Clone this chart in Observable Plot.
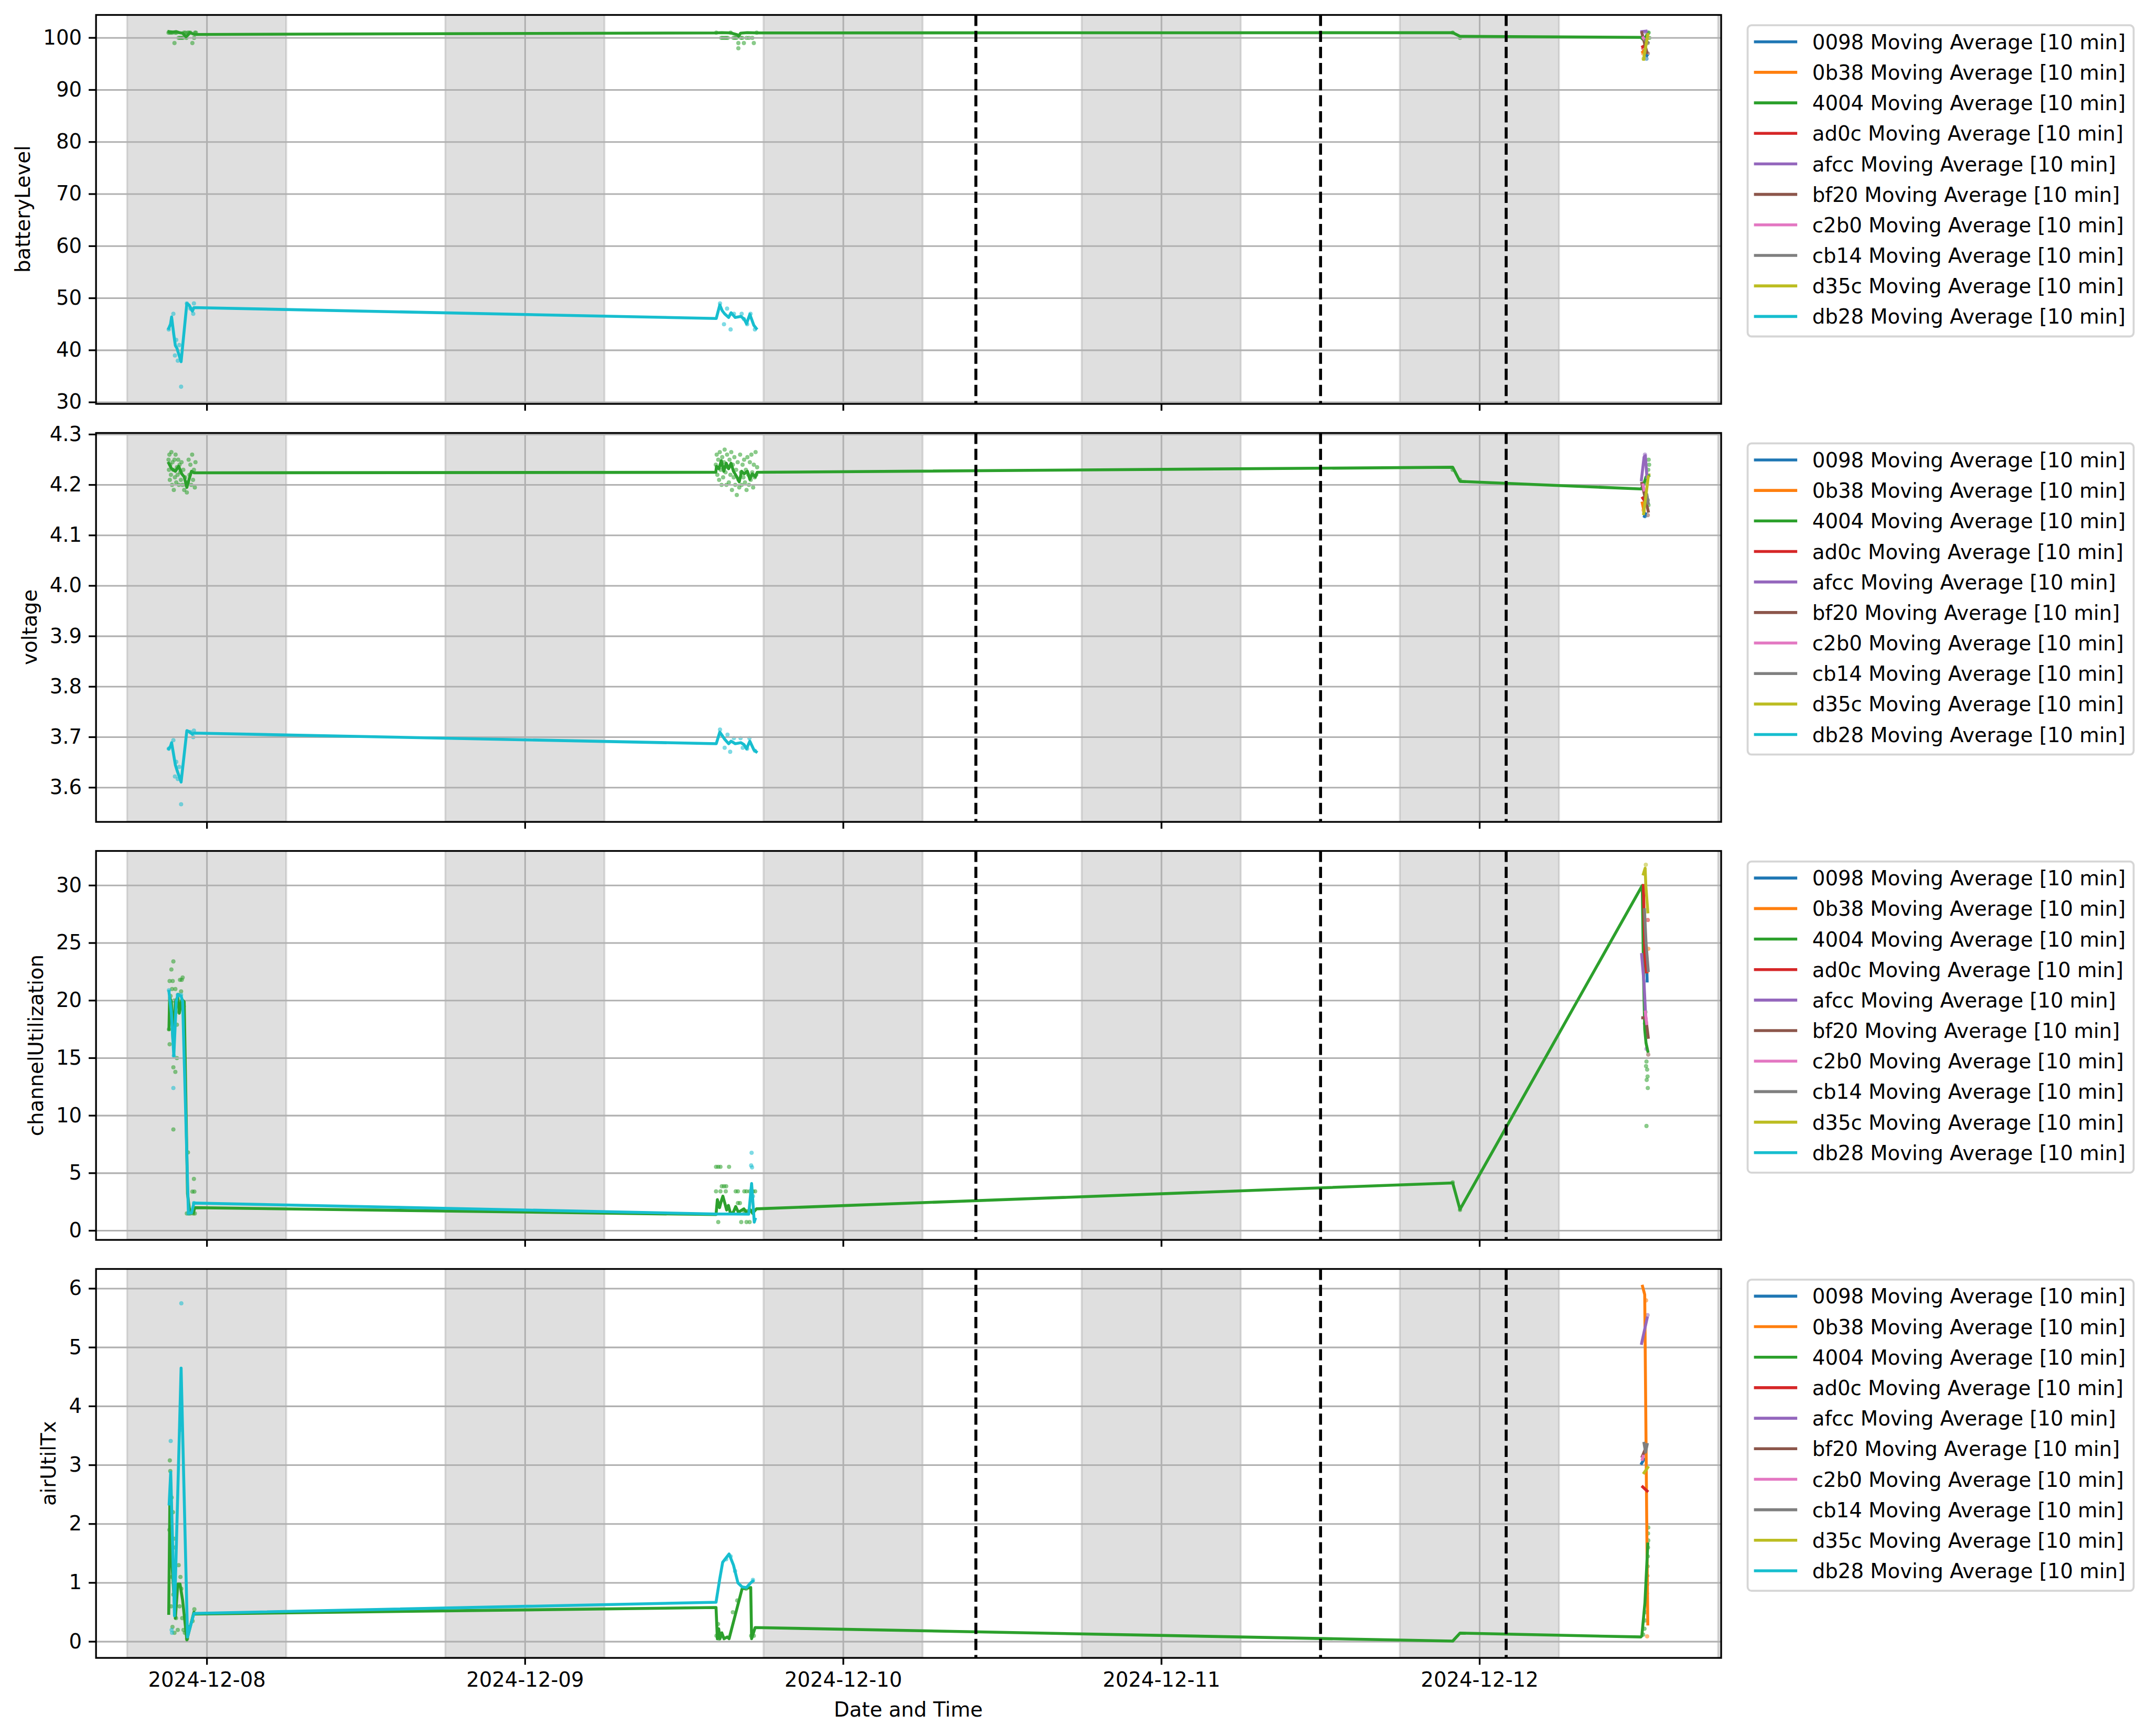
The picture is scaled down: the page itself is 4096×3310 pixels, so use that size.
<!DOCTYPE html>
<html><head><meta charset="utf-8">
<script src="https://cdn.jsdelivr.net/npm/d3@7"></script>
<script src="https://cdn.jsdelivr.net/npm/@observablehq/plot@0.6"></script>
<style>
body{margin:0;background:#fff;}
#root{position:relative;width:4096px;height:3310px;overflow:hidden;font-family:"DejaVu Sans";background:#fff;}
.panel{position:absolute;left:0;}
</style></head><body><div id="root"></div>
<script>
// ---------------- categories / meta ----------------
const NODES = ["0098","0b38","4004","ad0c","afcc","bf20","c2b0","cb14","d35c","db28"];
const COLORS = ["#1f77b4","#ff7f0e","#2ca02c","#d62728","#9467bd","#8c564b","#e377c2","#7f7f7f","#bcbd22","#17becf"];
const LEGEND_SUFFIX = " Moving Average [10 min]";
const METRICS = ["batteryLevel","voltage","channelUtilization","airUtilTx"];
const X_LABEL = "Date and Time";
const X_DOMAIN = ["07 15:38","12 18:13"];
const X_TICKS = ["08 00:00","09 00:00","10 00:00","11 00:00","12 00:00"];
const X_TICK_LABELS = ["2024-12-08","2024-12-09","2024-12-10","2024-12-11","2024-12-12"];
const NIGHTS = [["07 18:00","08 06:00"],["08 18:00","09 06:00"],["09 18:00","10 06:00"],["10 18:00","11 06:00"],["11 18:00","12 06:00"],["12 18:00","13 06:00"]];
const MARKERS = ["10 10:00","11 12:00","12 02:00"];
const Y_DOMAINS = [[29.7,104.4],[3.532,4.303],[-0.8,33.0],[-0.276,6.334]];
const Y_TICKS = [[30,40,50,60,70,80,90,100],[3.6,3.7,3.8,3.9,4.0,4.1,4.2,4.3],[0,5,10,15,20,25,30],[0,1,2,3,4,5,6]];
const Y_TICK_LABELS = [["30","40","50","60","70","80","90","100"],["3.6","3.7","3.8","3.9","4.0","4.1","4.2","4.3"],["0","5","10","15","20","25","30"],["0","1","2","3","4","5","6"]];

// ---------------- batteryLevel ----------------
const battery_4004 = [["07 21:08",101.2],["07 21:25",101.1],["07 21:40",101.2],["07 21:55",101.0],["07 22:10",100.9],["07 22:25",100.2],["07 22:35",100.6],["07 22:43",101.0],["07 22:55",100.8],["07 23:05",100.65],
 ["09 14:23",100.95],["09 14:50",101.0],["09 15:30",100.95],["09 16:00",100.6],["09 16:06",100.3],["09 16:15",100.9],["09 16:45",101.0],["09 17:31",100.95],
 ["11 21:58",101.0],["11 22:31",100.3],["12 12:10",100.1],["12 12:22",99.6],["12 12:33",100.3],["12 12:41",100.7]];
const battery_db28 = [["07 21:07",44.2],["07 21:15",45.0],["07 21:20",46.4],["07 21:30",43.0],["07 21:37",40.9],["07 21:44",40.4],["07 22:03",37.8],["07 22:29",49.0],["07 22:39",48.7],["07 22:54",47.5],["07 23:01",48.2],
 ["09 14:25",46.1],["09 14:41",48.7],["09 14:52",47.6],["09 15:03",47.0],["09 15:21",46.3],["09 15:32",47.2],["09 15:51",46.3],["09 16:17",46.5],["09 16:31",46.0],["09 16:42",45.1],["09 16:57",46.9],["09 17:15",44.8],["09 17:26",44.2]];
const battery_others = [["0098","12 12:30",96.8],["0098","12 12:37",96.6],["0b38","12 12:18",97.3],["0b38","12 12:30",97.8],["ad0c","12 12:18",98.3],["ad0c","12 12:26",98.5],
 ["afcc","12 12:14",101.2],["afcc","12 12:33",101.3],["bf20","12 12:14",101.0],["bf20","12 12:37",97.2],["c2b0","12 12:20",100.0],["c2b0","12 12:24",99.8],
 ["cb14","12 12:30",99.5],["cb14","12 12:41",99.1],["d35c","12 12:22",95.9],["d35c","12 12:41",100.65]];
const battery_dots = [["4004","07 21:06",101],["4004","07 21:12",101],["4004","07 21:18",101],["4004","07 21:24",101],["4004","07 21:33",99],["4004","07 21:36",101],["4004","07 21:42",101],["4004","07 21:52",100],["4004","07 21:58",100],["4004","07 22:05",100],["4004","07 22:11",100],["4004","07 22:16",101],["4004","07 22:22",101],["4004","07 22:27",100],["4004","07 22:33",101],["4004","07 22:39",101],["4004","07 22:45",101],["4004","07 22:54",99],["4004","07 23:02",100],["4004","07 23:06",101],["4004","07 23:10",101],
 ["db28","07 21:07",44],["db28","07 21:28",47],["db28","07 21:35",39],["db28","07 21:41",42],["db28","07 21:48",38],["db28","07 21:55",41],["db28","07 22:03",33],["db28","07 22:29",49],["db28","07 22:45",48],["db28","07 22:58",47],["db28","07 23:01",49],
 ["4004","09 14:25",101],["4004","09 14:48",100],["4004","09 14:55",100],["4004","09 15:03",100],["4004","09 15:10",100],["4004","09 15:17",100],["4004","09 15:30",101],["4004","09 15:43",100],["4004","09 15:50",100],["4004","09 15:57",100],["4004","09 16:05",99],["4004","09 16:05",98],["4004","09 16:17",100],["4004","09 16:23",100],["4004","09 16:30",99],["4004","09 16:42",100],["4004","09 16:53",100],["4004","09 17:08",100],["4004","09 17:15",99],["4004","09 17:28",101],
 ["db28","09 14:42",49],["db28","09 15:00",45],["db28","09 15:14",48],["db28","09 15:30",44],["db28","09 15:45",47],["db28","09 16:20",47],["db28","09 16:30",46],["db28","09 16:45",45],["db28","09 17:00",47],["db28","09 17:20",44],
 ["4004","11 21:58",101],["4004","11 22:31",100],
 ["4004","12 12:37",100],["4004","12 12:41",101],["4004","12 12:45",101],["4004","12 12:48",100],["afcc","12 12:33",101],["bf20","12 12:41",97],["0b38","12 12:20",97],["0098","12 12:35",96],["d35c","12 12:22",96],["d35c","12 12:43",100],["cb14","12 12:41",99],["ad0c","12 12:20",98]];

// ---------------- voltage ----------------
const voltage_4004 = [["07 21:07",4.243],["07 21:20",4.232],["07 21:37",4.227],["07 21:52",4.237],["07 22:06",4.222],["07 22:17",4.216],["07 22:29",4.195],["07 22:39",4.211],["07 22:50",4.227],["07 23:01",4.224],
 ["09 14:23",4.225],["09 14:26",4.237],["09 14:37",4.232],["09 14:48",4.248],["09 14:59",4.227],["09 15:10",4.243],["09 15:21",4.232],["09 15:32",4.243],["09 15:43",4.227],["09 15:58",4.216],["09 16:09",4.206],["09 16:20",4.227],["09 16:31",4.222],["09 16:46",4.227],["09 16:57",4.211],["09 17:08",4.222],["09 17:22",4.216],["09 17:30",4.225],
 ["11 21:58",4.235],["11 22:31",4.207],["12 12:10",4.192],["12 12:22",4.200],["12 12:33",4.216],["12 12:45",4.218]];
const voltage_db28 = [["07 21:07",3.677],["07 21:15",3.682],["07 21:20",3.689],["07 21:37",3.645],["07 21:44",3.635],["07 22:03",3.611],["07 22:29",3.713],["07 22:39",3.711],["07 22:54",3.706],["07 23:01",3.708],
 ["09 14:25",3.687],["09 14:41",3.710],["09 14:52",3.703],["09 15:03",3.696],["09 15:21",3.687],["09 15:32",3.692],["09 15:51",3.687],["09 16:17",3.689],["09 16:31",3.685],["09 16:42",3.677],["09 16:57",3.692],["09 17:15",3.675],["09 17:26",3.671]];
const voltage_others = [["0098","12 12:26",4.138],["0098","12 12:30",4.143],["0b38","12 12:16",4.164],["0b38","12 12:24",4.148],["ad0c","12 12:18",4.174],["ad0c","12 12:24",4.170],
 ["afcc","12 12:12",4.210],["afcc","12 12:24",4.255],["afcc","12 12:30",4.258],["afcc","12 12:37",4.215],["bf20","12 12:14",4.203],["bf20","12 12:43",4.148],
 ["c2b0","12 12:20",4.200],["c2b0","12 12:24",4.190],["cb14","12 12:37",4.180],["cb14","12 12:43",4.164],["d35c","12 12:22",4.143],["d35c","12 12:43",4.216]];
const voltage_dots = [["4004","07 21:06",4.25],["4004","07 21:08",4.23],["4004","07 21:10",4.26],["4004","07 21:12",4.21],["4004","07 21:14",4.24],["4004","07 21:17",4.22],["4004","07 21:19",4.265],["4004","07 21:22",4.2],["4004","07 21:24",4.245],["4004","07 21:27",4.23],["4004","07 21:30",4.19],["4004","07 21:33",4.25],["4004","07 21:35",4.215],["4004","07 21:38",4.26],["4004","07 21:41",4.205],["4004","07 21:44",4.235],["4004","07 21:47",4.22],["4004","07 21:50",4.25],["4004","07 21:53",4.2],["4004","07 21:56",4.24],["4004","07 21:59",4.225],["4004","07 22:02",4.21],["4004","07 22:05",4.245],["4004","07 22:09",4.2],["4004","07 22:13",4.23],["4004","07 22:17",4.19],["4004","07 22:21",4.215],["4004","07 22:25",4.2],["4004","07 22:29",4.185],["4004","07 22:33",4.205],["4004","07 22:37",4.25],["4004","07 22:41",4.22],["4004","07 22:45",4.24],["4004","07 22:49",4.2],["4004","07 22:53",4.26],["4004","07 22:57",4.21],["4004","07 23:01",4.23],["4004","07 23:05",4.195],["4004","07 23:08",4.245],
 ["db28","07 21:07",3.677],["db28","07 21:28",3.694],["db28","07 21:35",3.622],["db28","07 21:41",3.651],["db28","07 21:48",3.617],["db28","07 21:55",3.641],["db28","07 22:03",3.567],["db28","07 22:45",3.71],["db28","07 22:58",3.700],["db28","07 23:01",3.713],
 ["4004","09 14:23",4.24],["4004","09 14:27",4.26],["4004","09 14:30",4.22],["4004","09 14:34",4.25],["4004","09 14:38",4.21],["4004","09 14:41",4.265],["4004","09 14:45",4.23],["4004","09 14:49",4.2],["4004","09 14:52",4.255],["4004","09 14:56",4.215],["4004","09 15:00",4.245],["4004","09 15:03",4.27],["4004","09 15:07",4.225],["4004","09 15:11",4.2],["4004","09 15:14",4.26],["4004","09 15:18",4.235],["4004","09 15:22",4.205],["4004","09 15:25",4.25],["4004","09 15:29",4.22],["4004","09 15:33",4.265],["4004","09 15:36",4.19],["4004","09 15:40",4.24],["4004","09 15:44",4.215],["4004","09 15:47",4.255],["4004","09 15:51",4.2],["4004","09 15:55",4.23],["4004","09 15:58",4.18],["4004","09 16:02",4.245],["4004","09 16:06",4.21],["4004","09 16:09",4.195],["4004","09 16:13",4.26],["4004","09 16:17",4.225],["4004","09 16:20",4.2],["4004","09 16:24",4.24],["4004","09 16:28",4.215],["4004","09 16:31",4.25],["4004","09 16:35",4.205],["4004","09 16:39",4.23],["4004","09 16:42",4.19],["4004","09 16:46",4.255],["4004","09 16:50",4.22],["4004","09 16:53",4.2],["4004","09 16:57",4.245],["4004","09 17:01",4.21],["4004","09 17:04",4.26],["4004","09 17:08",4.225],["4004","09 17:12",4.195],["4004","09 17:15",4.24],["4004","09 17:19",4.215],["4004","09 17:23",4.265],["4004","09 17:26",4.22],["4004","09 17:30",4.235],
 ["db28","09 14:42",3.715],["db28","09 15:03",3.679],["db28","09 15:16",3.705],["db28","09 15:28",3.671],["db28","09 15:45",3.698],["db28","09 16:15",3.698],["db28","09 16:25",3.679],["db28","09 16:45",3.677],["db28","09 16:55",3.698],["db28","09 17:20",3.673],
 ["4004","11 21:58",4.23],["4004","11 22:31",4.21],
 ["4004","12 12:45",4.25],["4004","12 12:47",4.24],["4004","12 12:43",4.23],["4004","12 12:40",4.17],["4004","12 12:44",4.16],["afcc","12 12:28",4.26],["bf20","12 12:41",4.14],["0098","12 12:28",4.138],["0b38","12 12:22",4.15],["d35c","12 12:45",4.22],["cb14","12 12:40",4.17]];

// ---------------- channelUtilization ----------------
const channel_4004 = [["07 21:08",17.5],["07 21:11",20.3],["07 21:19",19.9],["07 21:26",16.6],["07 21:37",19.9],["07 21:48",20.3],["07 21:55",18.9],["07 22:06",20.1],["07 22:17",19.9],["07 22:32",3.2],["07 22:43",1.54],["07 22:58",1.54],["07 23:05",2.0],
 ["09 14:24",1.4],["09 14:30",2.7],["09 14:40",2.0],["09 14:48",2.6],["09 14:55",3.0],["09 15:05",2.3],["09 15:12",1.8],["09 15:20",2.2],["09 15:28",1.6],["09 15:40",1.5],["09 15:53",2.1],["09 16:05",1.6],["09 16:30",1.9],["09 16:45",1.5],["09 17:00",1.8],["09 17:10",1.5],["09 17:18",1.7],["09 17:27",1.9],
 ["11 21:58",4.15],["11 22:31",1.85],["12 12:16",30.0],["12 12:22",22.0],["12 12:27",17.5],["12 12:33",16.3],["12 12:41",15.6]];
const channel_db28 = [["07 21:08",20.8],["07 21:19",18.9],["07 21:30",15.2],["07 21:41",19.9],["07 21:48",20.5],["07 22:03",20.4],["07 22:10",19.9],["07 22:36",1.54],["07 22:50",1.54],["07 23:01",2.4],
 ["09 14:24",1.45],["09 15:30",1.45],["09 16:52",1.44],["09 17:05",4.1],["09 17:17",0.75],["09 17:21",1.0]];
const channel_others = [["0098","12 12:35",23.7],["0098","12 12:38",21.7],["0b38","12 12:32",24.2],["0b38","12 12:38",22.5],["ad0c","12 12:21",30.0],["ad0c","12 12:28",24.0],["ad0c","12 12:35",22.5],
 ["afcc","12 12:13",24.0],["afcc","12 12:24",21.5],["afcc","12 12:32",18.4],["bf20","12 12:18",18.5],["bf20","12 12:32",18.5],["bf20","12 12:43",16.8],
 ["c2b0","12 12:30",19.0],["c2b0","12 12:36",18.0],["cb14","12 12:26",27.9],["cb14","12 12:33",25.0],["cb14","12 12:43",22.6],["d35c","12 12:21",31.0],["d35c","12 12:29",31.5],["d35c","12 12:32",30.0],["d35c","12 12:41",27.7]];
const channel_dots = [["4004","07 21:08",17.5],["4004","07 21:11",21.7],["4004","07 21:11",16.2],["4004","07 21:15",20.4],["4004","07 21:19",22.7],["4004","07 21:22",21.0],["4004","07 21:25",21.7],["4004","07 21:28",23.4],["4004","07 21:28",14.2],["4004","07 21:28",8.8],["4004","07 21:32",20.0],["4004","07 21:37",21.0],["4004","07 21:37",13.8],["4004","07 21:40",19.0],["4004","07 21:44",17.9],["4004","07 21:44",15.0],["4004","07 21:50",20.5],["4004","07 21:55",19.5],["4004","07 21:58",21.8],["4004","07 22:03",20.8],["4004","07 22:06",21.8],["4004","07 22:10",22.0],["4004","07 22:15",19.5],["4004","07 22:29",1.5],["4004","07 22:34",6.8],["4004","07 22:38",1.5],["4004","07 22:45",1.5],["4004","07 22:54",3.4],["4004","07 22:58",1.5],["4004","07 23:01",4.5],["4004","07 23:03",3.4],["4004","07 23:05",1.5],
 ["db28","07 21:08",20.9],["db28","07 21:28",12.4],["db28","07 21:30",15.2],["db28","07 21:48",20.5],["db28","07 22:03",20.5],["db28","07 22:36",1.5],["db28","07 23:01",2.4],
 ["4004","09 14:24",5.55],["4004","09 14:34",5.55],["4004","09 14:44",5.55],["4004","09 15:23",5.55],["4004","09 14:50",3.86],["4004","09 15:00",3.86],["4004","09 15:10",3.86],["4004","09 14:24",3.42],["4004","09 14:44",3.42],["4004","09 15:08",3.42],["4004","09 15:53",3.42],["4004","09 16:03",3.42],["4004","09 16:32",3.42],["4004","09 16:42",3.42],["4004","09 16:56",3.42],["4004","09 17:11",3.42],["4004","09 17:21",3.42],["4004","09 16:03",2.4],["4004","09 16:12",2.4],["4004","09 16:32",1.7],["4004","09 16:42",1.7],["4004","09 16:52",1.7],["4004","09 14:34",0.75],["4004","09 16:18",0.75],["4004","09 16:42",0.75],["4004","09 16:56",0.75],
 ["db28","09 17:05",6.77],["db28","09 17:03",5.67],["db28","09 17:07",5.5],["db28","09 17:11",3.0],
 ["4004","11 21:58",4.2],["4004","11 22:31",1.8],
 ["4004","12 12:35",14.7],["4004","12 12:33",14.3],["4004","12 12:38",14.0],["4004","12 12:40",13.4],["4004","12 12:36",13.1],["4004","12 12:41",12.4],["4004","12 12:35",9.1],["4004","12 12:30",19.0],["4004","12 12:28",18.0],["ad0c","12 12:41",27.0],["0b38","12 12:43",24.5],["d35c","12 12:32",31.8],["afcc","12 12:35",15.8],["bf20","12 12:43",15.3]];

// ---------------- airUtilTx ----------------
const air_4004 = [["07 21:07",0.48],["07 21:12",2.34],["07 21:22",1.3],["07 21:37",0.4],["07 21:48",0.98],["07 21:58",0.98],["07 22:10",0.7],["07 22:29",0.03],["07 23:01",0.5],["07 23:05",0.47],
 ["09 14:24",0.58],["09 14:30",0.05],["09 14:36",0.22],["09 14:42",0.05],["09 14:50",0.15],["09 15:00",0.05],["09 15:15",0.08],["09 15:23",0.05],["09 16:22",0.9],["09 17:01",0.92],["09 17:05",0.05],["09 17:21",0.24],
 ["11 21:58",0.01],["11 22:31",0.145],["12 12:10",0.08],["12 12:14",0.10],["12 12:28",0.66],["12 12:41",1.66]];
const air_db28 = [["07 21:09",2.34],["07 21:16",2.88],["07 21:33",0.44],["07 22:03",4.65],["07 22:32",0.08],["07 23:01",0.48],
 ["09 14:24",0.67],["09 14:40",1.05],["09 14:54",1.35],["09 15:23",1.49],["09 15:43",1.3],["09 16:03",1.0],["09 16:22",0.93],["09 16:42",0.92],["09 17:01",1.0],["09 17:11",1.03]];
const air_others = [["0098","12 12:13",3.03],["0098","12 12:24",3.10],["0b38","12 12:17",6.04],["0b38","12 12:27",5.9],["0b38","12 12:33",3.4],["0b38","12 12:37",1.7],["0b38","12 12:41",0.3],
 ["ad0c","12 12:18",2.63],["ad0c","12 12:38",2.56],["afcc","12 12:13",5.07],["afcc","12 12:38",5.50],["bf20","12 12:16",3.15],["bf20","12 12:35",3.32],
 ["c2b0","12 12:16",3.10],["c2b0","12 12:20",3.15],["cb14","12 12:24",3.37],["cb14","12 12:31",3.22],["cb14","12 12:38",3.35],["d35c","12 12:24",2.87],["d35c","12 12:41",2.96]];
const air_dots = [["4004","07 21:10",1.9],["4004","07 21:12",3.08],["4004","07 21:14",2.9],["4004","07 21:16",1.3],["4004","07 21:18",0.6],["4004","07 21:20",2.45],["4004","07 21:22",1.1],["4004","07 21:24",0.25],["4004","07 21:26",2.2],["4004","07 21:28",0.8],["4004","07 21:30",1.75],["4004","07 21:33",0.15],["4004","07 21:36",1.6],["4004","07 21:40",0.4],["4004","07 21:44",0.95],["4004","07 21:48",0.2],["4004","07 21:52",1.3],["4004","07 21:56",0.6],["4004","07 22:00",1.1],["4004","07 22:04",0.9],["4004","07 22:08",0.4],["4004","07 22:14",0.2],["4004","07 22:20",0.15],["4004","07 22:30",0.05],["4004","07 22:40",0.25],["4004","07 22:55",0.35],["4004","07 23:03",0.55],
 ["db28","07 21:16",3.41],["db28","07 22:04",5.75],["db28","07 21:59",3.6],["db28","07 21:20",0.2],["db28","07 21:22",0.15],
 ["4004","09 14:26",0.1],["4004","09 14:33",0.3],["4004","09 14:38",0.05],["4004","09 15:40",0.5],["4004","09 16:00",0.7],["4004","09 16:40",0.9],["4004","09 17:03",0.1],["4004","09 17:15",0.1],
 ["db28","09 15:10",1.4],["db28","09 15:30",1.45],["db28","09 15:50",1.2],["db28","09 17:11",1.05],
 ["4004","12 12:43",1.94],["4004","12 12:42",1.84],["4004","12 12:43",1.72],["4004","12 12:42",1.6],["4004","12 12:41",1.45],["4004","12 12:40",1.28],["4004","12 12:39",1.12],["4004","12 12:38",0.97],["4004","12 12:37",0.82],["4004","12 12:35",0.66],["4004","12 12:33",0.5],["4004","12 12:30",0.36],["4004","12 12:26",0.22],["4004","12 12:20",0.12],
 ["0b38","12 12:38",0.09],["0b38","12 12:33",5.8],["afcc","12 12:40",5.55]];

// ---------------- build ----------------
const t = s => new Date(`2024-12-${s.slice(0,2)}T${s.slice(3)}:00Z`);
const tag = (node, arr) => arr.map(([s, v]) => [node, s, v]);
const rows = arr => arr.map(([node, s, v]) => ({node, time: t(s), value: v}));
const LINES = [
  rows([...tag("4004", battery_4004), ...tag("db28", battery_db28), ...battery_others]),
  rows([...tag("4004", voltage_4004), ...tag("db28", voltage_db28), ...voltage_others]),
  rows([...tag("4004", channel_4004), ...tag("db28", channel_db28), ...channel_others]),
  rows([...tag("4004", air_4004), ...tag("db28", air_db28), ...air_others])
];
const DOTS = [rows(battery_dots), rows(voltage_dots), rows(channel_dots), rows(air_dots)];

const S = 0.927;
const FS = 41.67 * S;            // 10pt at 300 dpi
const LEFT = 197 * S, RIGHT = 3540 * S;
const PH = 800 * S;
const TOPS = [30, 890, 1750, 2610].map(v => v * S);
const PW = 3300;
const TICK = 14.6 * S, PAD = 14.6 * S;
const GRIDW = 3.1, LINEW = 5.6, SPINEW = 3.3;

const root = document.getElementById("root");

METRICS.forEach((metric, i) => {
  const last = i === 3;
  const mt = 10, mb = last ? 90 : 30;
  const yt = Y_TICKS[i], ylab = Y_TICK_LABELS[i];
  const xt = X_TICKS.map(t);
  const plot = Plot.plot({
    width: PW, height: PH + mt + mb,
    marginLeft: LEFT, marginRight: PW - RIGHT, marginTop: mt, marginBottom: mb,
    style: {fontFamily: "DejaVu Sans", fontSize: FS + "px", color: "black", background: "transparent", overflow: "visible"},
    x: {type: "utc", domain: X_DOMAIN.map(t)},
    y: {domain: Y_DOMAINS[i]},
    color: {domain: NODES, range: COLORS},
    marks: [
      Plot.rect(NIGHTS, {x1: d => t(d[0]), x2: d => t(d[1]), fill: "gray", fillOpacity: 0.25, stroke: "gray", strokeOpacity: 0.25, strokeWidth: 3.6, clip: true}),
      Plot.dot(DOTS[i], {x: "time", y: "value", fill: "node", r: 3.8, fillOpacity: 0.55, stroke: "node", strokeOpacity: 0.25, strokeWidth: 1}),
      Plot.gridX(xt, {stroke: "#b0b0b0", strokeOpacity: 1, strokeWidth: GRIDW}),
      Plot.gridY(yt, {stroke: "#b0b0b0", strokeOpacity: 1, strokeWidth: GRIDW}),
      ...NODES.map(n => Plot.line(LINES[i].filter(d => d.node === n), {x: "time", y: "value", stroke: "node", strokeWidth: LINEW, strokeLinejoin: "round", strokeLinecap: "square"})),
      Plot.ruleX(MARKERS.map(t), {stroke: "black", strokeWidth: LINEW, strokeDasharray: `${23.1*S},${10*S}`}),
      Plot.axisY(yt, {tickSize: TICK, tickPadding: PAD, tickFormat: d => ylab[yt.indexOf(d)], label: null, strokeWidth: SPINEW}),
      Plot.axisX(xt, {tickSize: TICK, tickPadding: PAD, tickFormat: last ? (d => X_TICK_LABELS[xt.findIndex(x => +x === +d)]) : (() => ""), label: null, strokeWidth: SPINEW}),
      Plot.frame({stroke: "black", strokeWidth: SPINEW})
    ]
  });
  const div = document.createElement("div");
  div.className = "panel";
  div.style.top = (TOPS[i] - mt) + "px";
  div.appendChild(plot);
  root.appendChild(div);
});

// ---------------- overlay: y labels, x label, legends ----------------
const svg = d3.select(root).append("svg")
  .attr("width", 4096).attr("height", 3310)
  .style("position", "absolute").style("left", 0).style("top", 0)
  .style("font-family", "DejaVu Sans").style("font-size", FS + "px");

const charW = c => (c === "." ? 0.318 : 0.636) * FS;
METRICS.forEach((metric, i) => {
  const maxW = d3.max(Y_TICK_LABELS[i], s => d3.sum([...s], charW));
  const labelRight = LEFT - TICK - PAD - maxW - 16.67 * S;
  const bx = labelRight - 0.236 * FS;
  const cy = TOPS[i] + PH / 2;
  svg.append("text").attr("transform", `translate(${bx},${cy}) rotate(-90)`)
    .attr("text-anchor", "middle").attr("fill", "black").text(metric);

  const lx = 3595 * S, ly = TOPS[i] + 22 * S;
  const g = svg.append("g").attr("transform", `translate(${lx},${ly})`);
  g.append("rect").attr("width", (4389 - 3595) * S).attr("height", 640 * S)
    .attr("rx", 8 * S).attr("fill", "white").attr("fill-opacity", 0.8)
    .attr("stroke", "#d6d6d6").attr("stroke-width", 3.8);
  NODES.forEach((n, k) => {
    const cyk = 34 * S + k * 62.76 * S;
    g.append("line").attr("x1", 13 * S).attr("x2", 102 * S).attr("y1", cyk).attr("y2", cyk)
      .attr("stroke", COLORS[k]).attr("stroke-width", LINEW);
    g.append("text").attr("x", 133 * S).attr("y", cyk + 0.3645 * FS).attr("fill", "black")
      .text(n + LEGEND_SUFFIX);
  });
});
svg.append("text").attr("x", (LEFT + RIGHT) / 2).attr("y", 3531 * S)
  .attr("text-anchor", "middle").attr("fill", "black").text(X_LABEL);
</script></body></html>
